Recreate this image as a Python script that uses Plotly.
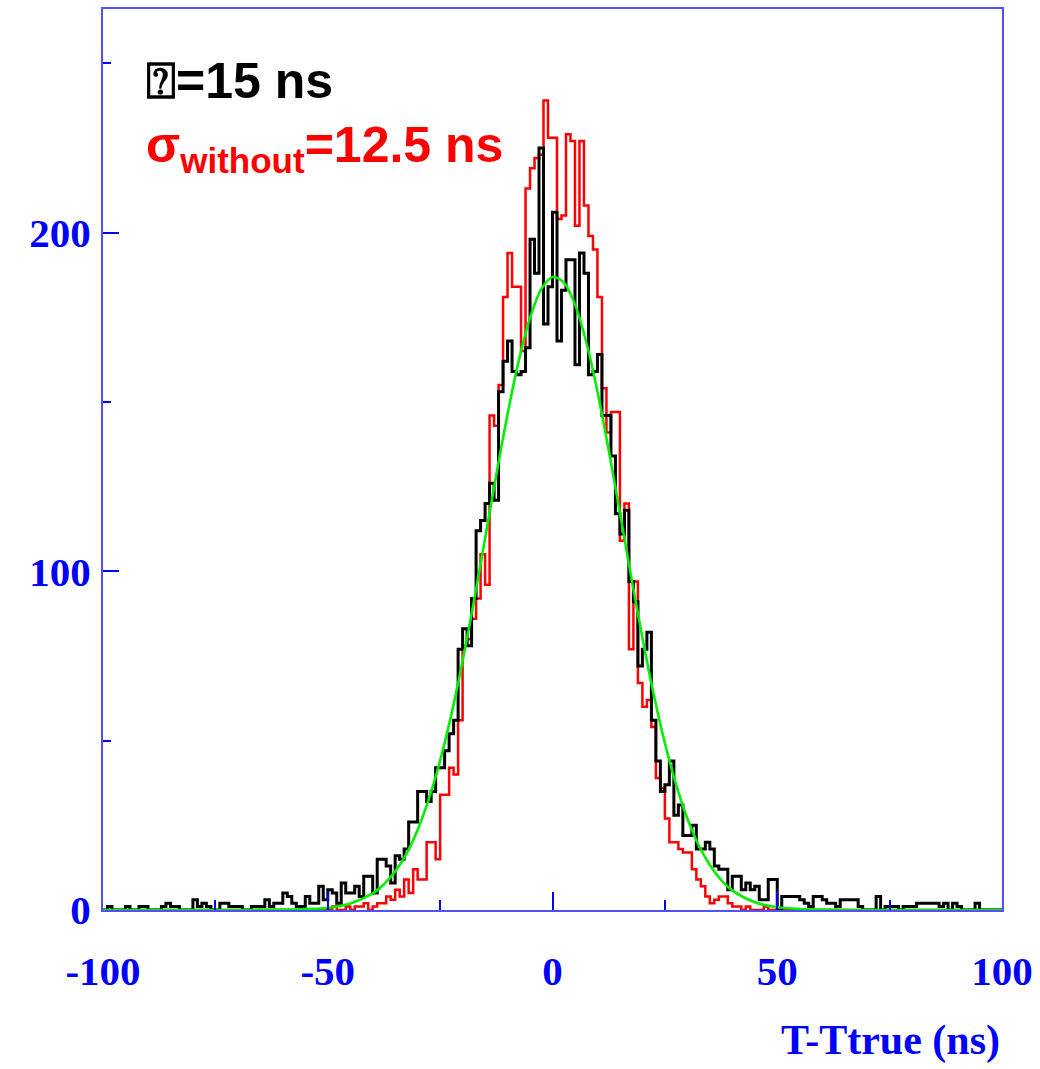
import numpy as np
import plotly.graph_objects as go

# ---------------- data ----------------
x_min, x_max, bin_width = -100, 100, 1

# black histogram ("with"), bins -100 ... 99 (1 ns each)
black_counts = [
    0, 1, 0, 0, 0, 1, 0, 0, 1, 1,            # -100 .. -91
    0, 0, 0, 1, 2, 1, 1, 0, 0, 0,            # -90 .. -81
    3, 1, 2, 1, 0, 0, 2, 2, 1, 1,            # -80 .. -71
    1, 0, 0, 1, 1, 1, 3, 1, 2, 2,            # -70 .. -61
    5, 4, 2, 1, 1, 4, 2, 2, 7, 3,            # -60 .. -51
    6, 5, 2, 8, 5, 5, 7, 4, 10, 10,          # -50 .. -41
    5, 15, 15, 13, 8, 16, 15, 18, 26, 26,    # -40 .. -31
    35, 35, 32, 35, 42, 42, 47, 52, 56, 77,  # -30 .. -21
    83, 78, 92, 112, 115, 120, 126, 121, 153, 162,  # -20 .. -11
    168, 159, 158, 159, 166, 198, 188, 225, 173, 184,  # -10 .. -1
    206, 168, 183, 192, 192, 161, 194, 188, 158, 159,  # 0 .. 9
    164, 146, 146, 134, 117, 111, 118, 97, 91, 72,     # 10 .. 19
    77, 82, 56, 44, 35, 37, 44, 28, 31, 22,  # 20 .. 29
    22, 25, 18, 18, 20, 18, 13, 12, 12, 6,   # 30 .. 39
    10, 10, 6, 8, 6, 7, 3, 3, 9, 9,          # 40 .. 49
    0, 4, 4, 4, 4, 3, 2, 1, 4, 4,            # 50 .. 59
    3, 2, 2, 1, 3, 3, 3, 3, 1, 0,            # 60 .. 69
    0, 0, 4, 0, 1, 1, 1, 0, 1, 1,            # 70 .. 79
    1, 2, 2, 2, 2, 2, 1, 2, 0, 2,            # 80 .. 89
    1, 0, 0, 0, 2, 0, 0, 0, 0, 0,            # 90 .. 99
]

# red histogram ("without"), bins -100 ... 99
red_counts = [
    0, 0, 0, 0, 0, 0, 0, 0, 0, 0,            # -100 .. -91
    0, 0, 0, 0, 0, 0, 0, 0, 0, 0,            # -90 .. -81
    0, 0, 0, 0, 0, 0, 0, 0, 0, 0,            # -80 .. -71
    0, 0, 0, 0, 0, 0, 0, 0, 0, 0,            # -70 .. -61
    0, 0, 0, 0, 0, 0, 0, 0, 0, 0,            # -60 .. -51
    0, 1, 0, 0, 1, 0, 1, 1, 2, 0,            # -50 .. -41
    1, 2, 2, 4, 3, 6, 4, 9, 5, 12,           # -40 .. -31
    9, 9, 20, 20, 15, 34, 34, 42, 40, 56,    # -30 .. -21
    78, 80, 86, 92, 105, 96, 146, 143, 155, 181,       # -20 .. -11
    194, 184, 184, 165, 213, 219, 222, 223, 239, 228,  # -10 .. -1
    228, 204, 205, 229, 227, 202, 227, 208, 199, 195,  # 0 .. 9
    181, 154, 141, 147, 147, 109, 120, 77, 97, 67,     # 10 .. 19
    60, 62, 54, 39, 36, 27, 20, 20, 18, 17,  # 20 .. 29
    17, 12, 9, 7, 4, 2, 3, 4, 4, 2,          # 30 .. 39
    1, 1, 0, 1, 0, 0, 0, 1, 0, 0,            # 40 .. 49
    0, 0, 0, 0, 0, 0, 0, 0, 0, 0,            # 50 .. 59
    0, 0, 0, 0, 0, 0, 0, 0, 0, 0,            # 60 .. 69
    0, 0, 0, 0, 0, 0, 0, 0, 0, 0,            # 70 .. 79
    0, 0, 0, 0, 0, 0, 0, 0, 0, 0,            # 80 .. 89
    0, 0, 0, 0, 0, 0, 0, 0, 0, 0,            # 90 .. 99
]

# green fitted curve
fit_x = [-100, -70, -60, -55, -50, -45, -40, -37.5, -35, -32.5, -30, -27.5,
         -25, -22.5, -20, -17.5, -15, -12.5, -10, -7.5, -5, -2.5, 0, 2.5,
         5, 7.5, 10, 12.5, 15, 17.5, 20, 22.5, 25, 27.5, 30, 32.5, 35,
         37.5, 40, 45, 50, 55, 60, 70, 100]
fit_y = [0, 0, 0.1, 0.3, 0.6, 1.9, 4.9, 7.6, 11.4, 16.6, 23.7, 32.8,
         44.1, 57.7, 73.5, 91, 109.7, 128.5, 146.4, 162.2, 174.8, 183.3, 186.9, 185.3,
         178.8, 167.7, 153.1, 135.8, 117.3, 98.4, 80.4, 63.8, 49.3, 37, 27, 19.2, 13.3,
         8.9, 5.8, 2.3, 0.8, 0.3, 0.1, 0, 0]

x_ticks = [-100, -50, 0, 50, 100]
y_ticks = [0, 100, 200]
y_max = 266

label_with = "⍰=15 ns"
label_without = "σ<sub>without</sub>=12.5 ns"
x_title = "T-Ttrue (ns)"

# ---------------- figure ----------------
edges = list(np.arange(x_min, x_max + bin_width, bin_width))


def step_xy(counts):
    return edges, list(counts) + [counts[-1]]


fig = go.Figure()

rx, ry = step_xy(red_counts)
fig.add_trace(go.Scatter(x=rx, y=ry, mode="lines", line=dict(color="#ff0000", width=2.5, shape="hv"),
                         hoverinfo="skip", showlegend=False))
bx, by = step_xy(black_counts)
fig.add_trace(go.Scatter(x=bx, y=by, mode="lines", line=dict(color="#000000", width=3, shape="hv"),
                         hoverinfo="skip", showlegend=False))
fig.add_trace(go.Scatter(x=fit_x, y=fit_y, mode="lines",
                         line=dict(color="#00ee00", width=2.6, shape="spline", smoothing=0.8),
                         hoverinfo="skip", showlegend=False))

blue = "#0000ff"
frame = "#5050ff"
tick_font = dict(family="Liberation Serif", size=41, color=blue, weight="bold")

fig.update_xaxes(
    range=[x_min, x_max], tickvals=x_ticks, ticktext=[str(v) for v in x_ticks],
    ticks="inside", ticklen=18, tickwidth=2, tickcolor=blue,
    minor=dict(dtick=25, tick0=0, ticks="inside", ticklen=10, tickwidth=2, tickcolor=blue, showgrid=False),
    showline=True, linecolor=frame, linewidth=2, mirror=True,
    showgrid=False, zeroline=False, tickfont=tick_font, ticklabelstandoff=24,
)
fig.update_yaxes(
    range=[0, y_max], tickvals=y_ticks, ticktext=[str(v) for v in y_ticks],
    ticks="inside", ticklen=16, tickwidth=2, tickcolor=blue,
    minor=dict(dtick=50, tick0=0, ticks="inside", ticklen=8, tickwidth=2, tickcolor=blue, showgrid=False),
    showline=True, linecolor=frame, linewidth=2, mirror=True,
    showgrid=False, zeroline=False, tickfont=tick_font, ticklabelstandoff=2,
)

fig.add_annotation(text="<b>" + label_with + "</b>", xref="paper", yref="paper",
                   x=0.046, y=0.92, xanchor="left", yanchor="middle", showarrow=False,
                   font=dict(family="Liberation Sans", size=50, color="#000000"))
fig.add_annotation(text="<b>" + label_without + "</b>", xref="paper", yref="paper",
                   x=0.046, y=0.845, xanchor="left", yanchor="middle", showarrow=False,
                   font=dict(family="Liberation Sans", size=50, color="#ff0000"))
fig.add_annotation(text="<b>" + x_title + "</b>", xref="paper", yref="paper",
                   x=1.0, y=-0.145, xanchor="right", yanchor="middle", showarrow=False,
                   font=dict(family="Liberation Serif", size=42, color=blue))

fig.update_layout(
    width=1040, height=1069,
    margin=dict(l=103, r=37, t=7, b=159),
    paper_bgcolor="white", plot_bgcolor="white",
    hovermode=False,
)

fig.write_html("out.html", config={"displayModeBar": False})
